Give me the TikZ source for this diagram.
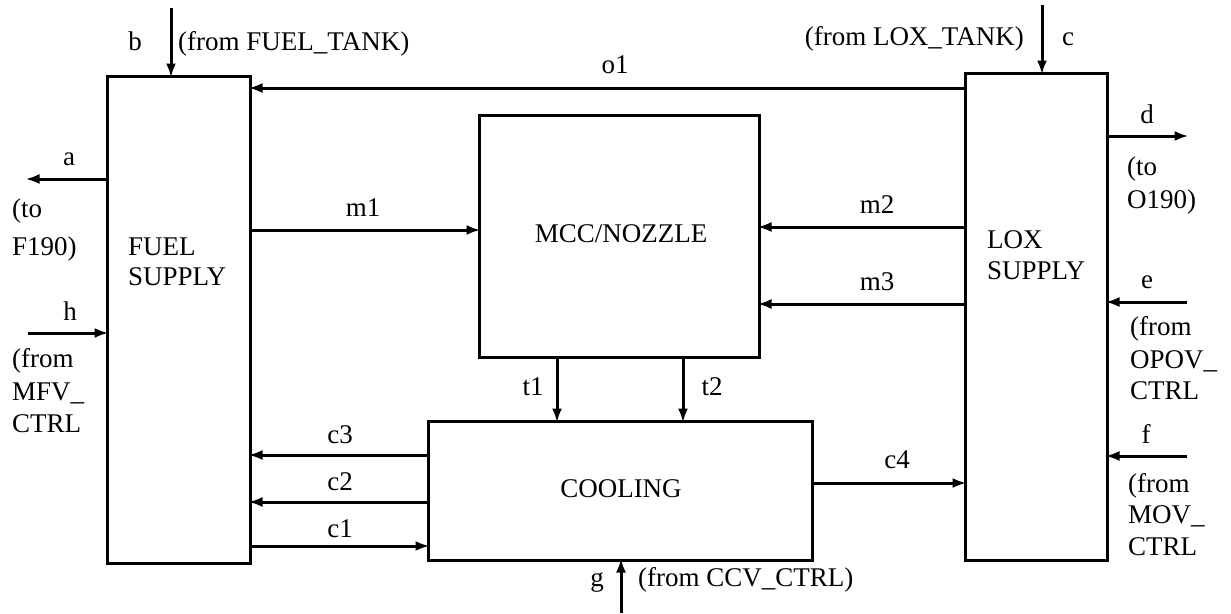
\documentclass[tikz,border=0pt]{standalone}
\usepackage{fontspec}
\setmainfont{Liberation Serif}
\usetikzlibrary{arrows.meta}
\begin{document}
\begin{tikzpicture}[x=1pt,y=-1pt,
  blk/.style={draw,line width=3pt,inner sep=0pt,outer sep=0pt,rectangle},
  arr/.style={line width=3pt,-{Latex[length=14pt,width=10pt]},shorten >=-1.5pt},
  lbl/.style={inner sep=0pt,anchor=base,font=\fontsize{27}{30}\selectfont},
  lblw/.style={inner sep=0pt,anchor=base west,font=\fontsize{27}{30}\selectfont},
  lble/.style={inner sep=0pt,anchor=base east,font=\fontsize{27}{30}\selectfont}]
\useasboundingbox (0,0) rectangle (1231,613);
% blocks
\node[blk,minimum width=143pt,minimum height=487pt] (fuel) at (178.5,319.5) {};
\node[blk,minimum width=142pt,minimum height=487pt] (lox) at (1036,316.5) {};
\node[blk,minimum width=280pt,minimum height=242pt] (mcc) at (619,236) {};
\node[blk,minimum width=384pt,minimum height=139pt] (cool) at (620,490.5) {};
% block texts
\node[lblw] (tfuel1) at (128,255) {FUEL};
\node[lblw] (tfuel2) at (128,285) {SUPPLY};
\node[lblw] (tlox1) at (987,248) {LOX};
\node[lblw] (tlox2) at (987,279) {SUPPLY};
\node[lbl] (tmcc) at (621,242) {MCC/NOZZLE};
\node[lbl] (tcool) at (621,497) {COOLING};
% free-end coordinates
\coordinate (bT) at (171,8);
\coordinate (cT) at (1042,5);
\coordinate (aE) at (27,179);
\coordinate (hS) at (28,333);
\coordinate (dE) at (1187,136);
\coordinate (eS) at (1187,302);
\coordinate (fS) at (1187,456);
\coordinate (gS) at (621,613);
% connectors
\draw[arr] (bT) -- (fuel.north -| bT);
\draw[arr] (cT) -- (lox.north -| cT);
\draw[arr] (fuel.west |- aE) -- (aE);
\draw[arr] (hS) -- (fuel.west |- hS);
\draw[arr] (lox.east |- dE) -- (dE);
\draw[arr] (eS) -- (lox.east |- eS);
\draw[arr] (fS) -- (lox.east |- fS);
\draw[arr] (gS) -- (cool.south -| gS);
\coordinate (o1y) at (0,88);
\draw[arr] (lox.west |- o1y) -- (fuel.east |- o1y);
\coordinate (m1y) at (0,230);
\draw[arr] (fuel.east |- m1y) -- (mcc.west |- m1y);
\coordinate (m2y) at (0,227);
\draw[arr] (lox.west |- m2y) -- (mcc.east |- m2y);
\coordinate (m3y) at (0,304);
\draw[arr] (lox.west |- m3y) -- (mcc.east |- m3y);
\coordinate (t1x) at (557,0);
\draw[arr] (mcc.south -| t1x) -- (cool.north -| t1x);
\coordinate (t2x) at (683,0);
\draw[arr] (mcc.south -| t2x) -- (cool.north -| t2x);
\coordinate (c3y) at (0,455);
\draw[arr] (cool.west |- c3y) -- (fuel.east |- c3y);
\coordinate (c2y) at (0,502);
\draw[arr] (cool.west |- c2y) -- (fuel.east |- c2y);
\coordinate (c1y) at (0,546);
\draw[arr] (fuel.east |- c1y) -- (cool.west |- c1y);
\coordinate (c4y) at (0,483);
\draw[arr] (cool.east |- c4y) -- (lox.west |- c4y);
% connector labels
\node[lbl] (lb) at (135,50) {b};
\node[lblw] (lbt) at (178,50) {(from FUEL\_TANK)};
\node[lbl] (lc) at (1068,45) {c};
\node[lble] (lct) at (1024,45) {(from LOX\_TANK)};
\node[lbl] (lo1) at (615,73) {o1};
\node[lbl] (la) at (69,165) {a};
\node[lblw] (la1) at (12,217) {(to};
\node[lblw] (la2) at (12,255) {F190)};
\node[lbl] (lm1) at (363,216) {m1};
\node[lbl] (lm2) at (877,213) {m2};
\node[lbl] (lm3) at (877,290) {m3};
\node[lbl] (lh) at (70,320) {h};
\node[lblw] (lh1) at (12,367) {(from};
\node[lblw] (lh2) at (12,400) {MFV\_};
\node[lblw] (lh3) at (12,432) {CTRL};
\node[lbl] (ld) at (1147,123) {d};
\node[lblw] (ld1) at (1127,175) {(to};
\node[lblw] (ld2) at (1127,208) {O190)};
\node[lbl] (le) at (1147,288) {e};
\node[lblw] (le1) at (1130,335) {(from};
\node[lblw] (le2) at (1130,368) {OPOV\_};
\node[lblw] (le3) at (1130,399) {CTRL};
\node[lbl] (lf) at (1146,443) {f};
\node[lblw] (lf1) at (1128,492) {(from};
\node[lblw] (lf2) at (1128,523) {MOV\_};
\node[lblw] (lf3) at (1128,555) {CTRL};
\node[lbl] (lt1) at (533,395) {t1};
\node[lbl] (lt2) at (712,395) {t2};
\node[lbl] (lc3) at (340,443) {c3};
\node[lbl] (lc2) at (340,490) {c2};
\node[lbl] (lc1) at (340,537) {c1};
\node[lbl] (lc4) at (897,468) {c4};
\node[lbl] (lg) at (597,586) {g};
\node[lblw] (lgt) at (638,586) {(from CCV\_CTRL)};
\end{tikzpicture}
\end{document}
